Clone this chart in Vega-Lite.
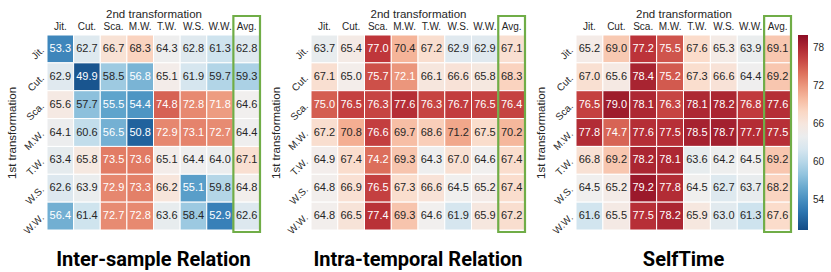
{
  "$schema": "https://vega.github.io/schema/vega-lite/v6.json",
  "padding": {"left": 6, "top": 8, "right": 2, "bottom": 4},
  "spacing": 8,
  "config": {
    "view": {"stroke": null},
    "font": "Liberation Sans",
    "axis": {"domain": false, "ticks": false, "labelFontSize": 10, "labelColor": "#262626", "titleFontSize": 11.5, "titleFontWeight": "normal", "titleColor": "#262626", "labelFont": "Liberation Sans", "titleFont": "Liberation Sans"},
    "title": {"font": "Roboto", "fontSize": 20, "fontWeight": "bold", "color": "#000000"},
    "legend": {"labelFontSize": 10, "labelColor": "#262626", "labelFont": "Liberation Sans"}
  },
  "datasets": {
    "cells": [
      {"m":"A","r":"Jit.","c":"Jit.","v":53.3},{"m":"A","r":"Jit.","c":"Cut.","v":62.7},{"m":"A","r":"Jit.","c":"Sca.","v":66.7},{"m":"A","r":"Jit.","c":"M.W.","v":68.3},{"m":"A","r":"Jit.","c":"T.W.","v":64.3},{"m":"A","r":"Jit.","c":"W.S.","v":62.8},{"m":"A","r":"Jit.","c":"W.W.","v":61.3},{"m":"A","r":"Jit.","c":"Avg.","v":62.8},
      {"m":"A","r":"Cut.","c":"Jit.","v":62.9},{"m":"A","r":"Cut.","c":"Cut.","v":49.9},{"m":"A","r":"Cut.","c":"Sca.","v":58.5},{"m":"A","r":"Cut.","c":"M.W.","v":56.8},{"m":"A","r":"Cut.","c":"T.W.","v":65.1},{"m":"A","r":"Cut.","c":"W.S.","v":61.9},{"m":"A","r":"Cut.","c":"W.W.","v":59.7},{"m":"A","r":"Cut.","c":"Avg.","v":59.3},
      {"m":"A","r":"Sca.","c":"Jit.","v":65.6},{"m":"A","r":"Sca.","c":"Cut.","v":57.7},{"m":"A","r":"Sca.","c":"Sca.","v":55.5},{"m":"A","r":"Sca.","c":"M.W.","v":54.4},{"m":"A","r":"Sca.","c":"T.W.","v":74.8},{"m":"A","r":"Sca.","c":"W.S.","v":72.8},{"m":"A","r":"Sca.","c":"W.W.","v":71.8},{"m":"A","r":"Sca.","c":"Avg.","v":64.6},
      {"m":"A","r":"M.W.","c":"Jit.","v":64.1},{"m":"A","r":"M.W.","c":"Cut.","v":60.6},{"m":"A","r":"M.W.","c":"Sca.","v":56.5},{"m":"A","r":"M.W.","c":"M.W.","v":50.8},{"m":"A","r":"M.W.","c":"T.W.","v":72.9},{"m":"A","r":"M.W.","c":"W.S.","v":73.1},{"m":"A","r":"M.W.","c":"W.W.","v":72.7},{"m":"A","r":"M.W.","c":"Avg.","v":64.4},
      {"m":"A","r":"T.W.","c":"Jit.","v":63.4},{"m":"A","r":"T.W.","c":"Cut.","v":65.8},{"m":"A","r":"T.W.","c":"Sca.","v":73.5},{"m":"A","r":"T.W.","c":"M.W.","v":73.6},{"m":"A","r":"T.W.","c":"T.W.","v":65.1},{"m":"A","r":"T.W.","c":"W.S.","v":64.4},{"m":"A","r":"T.W.","c":"W.W.","v":64.0},{"m":"A","r":"T.W.","c":"Avg.","v":67.1},
      {"m":"A","r":"W.S.","c":"Jit.","v":62.6},{"m":"A","r":"W.S.","c":"Cut.","v":63.9},{"m":"A","r":"W.S.","c":"Sca.","v":72.9},{"m":"A","r":"W.S.","c":"M.W.","v":73.3},{"m":"A","r":"W.S.","c":"T.W.","v":66.2},{"m":"A","r":"W.S.","c":"W.S.","v":55.1},{"m":"A","r":"W.S.","c":"W.W.","v":59.8},{"m":"A","r":"W.S.","c":"Avg.","v":64.8},
      {"m":"A","r":"W.W.","c":"Jit.","v":56.4},{"m":"A","r":"W.W.","c":"Cut.","v":61.4},{"m":"A","r":"W.W.","c":"Sca.","v":72.7},{"m":"A","r":"W.W.","c":"M.W.","v":72.8},{"m":"A","r":"W.W.","c":"T.W.","v":63.6},{"m":"A","r":"W.W.","c":"W.S.","v":58.4},{"m":"A","r":"W.W.","c":"W.W.","v":52.9},{"m":"A","r":"W.W.","c":"Avg.","v":62.6},

      {"m":"B","r":"Jit.","c":"Jit.","v":63.7},{"m":"B","r":"Jit.","c":"Cut.","v":65.4},{"m":"B","r":"Jit.","c":"Sca.","v":77.0},{"m":"B","r":"Jit.","c":"M.W.","v":70.4},{"m":"B","r":"Jit.","c":"T.W.","v":67.2},{"m":"B","r":"Jit.","c":"W.S.","v":62.9},{"m":"B","r":"Jit.","c":"W.W.","v":62.9},{"m":"B","r":"Jit.","c":"Avg.","v":67.1},
      {"m":"B","r":"Cut.","c":"Jit.","v":67.1},{"m":"B","r":"Cut.","c":"Cut.","v":65.0},{"m":"B","r":"Cut.","c":"Sca.","v":75.7},{"m":"B","r":"Cut.","c":"M.W.","v":72.1},{"m":"B","r":"Cut.","c":"T.W.","v":66.1},{"m":"B","r":"Cut.","c":"W.S.","v":66.6},{"m":"B","r":"Cut.","c":"W.W.","v":65.8},{"m":"B","r":"Cut.","c":"Avg.","v":68.3},
      {"m":"B","r":"Sca.","c":"Jit.","v":75.0},{"m":"B","r":"Sca.","c":"Cut.","v":76.5},{"m":"B","r":"Sca.","c":"Sca.","v":76.3},{"m":"B","r":"Sca.","c":"M.W.","v":77.6},{"m":"B","r":"Sca.","c":"T.W.","v":76.3},{"m":"B","r":"Sca.","c":"W.S.","v":76.7},{"m":"B","r":"Sca.","c":"W.W.","v":76.5},{"m":"B","r":"Sca.","c":"Avg.","v":76.4},
      {"m":"B","r":"M.W.","c":"Jit.","v":67.2},{"m":"B","r":"M.W.","c":"Cut.","v":70.8},{"m":"B","r":"M.W.","c":"Sca.","v":76.6},{"m":"B","r":"M.W.","c":"M.W.","v":69.7},{"m":"B","r":"M.W.","c":"T.W.","v":68.6},{"m":"B","r":"M.W.","c":"W.S.","v":71.2},{"m":"B","r":"M.W.","c":"W.W.","v":67.5},{"m":"B","r":"M.W.","c":"Avg.","v":70.2},
      {"m":"B","r":"T.W.","c":"Jit.","v":64.9},{"m":"B","r":"T.W.","c":"Cut.","v":67.4},{"m":"B","r":"T.W.","c":"Sca.","v":74.2},{"m":"B","r":"T.W.","c":"M.W.","v":69.3},{"m":"B","r":"T.W.","c":"T.W.","v":64.3},{"m":"B","r":"T.W.","c":"W.S.","v":67.0},{"m":"B","r":"T.W.","c":"W.W.","v":64.6},{"m":"B","r":"T.W.","c":"Avg.","v":67.4},
      {"m":"B","r":"W.S.","c":"Jit.","v":64.8},{"m":"B","r":"W.S.","c":"Cut.","v":66.9},{"m":"B","r":"W.S.","c":"Sca.","v":76.5},{"m":"B","r":"W.S.","c":"M.W.","v":67.3},{"m":"B","r":"W.S.","c":"T.W.","v":66.6},{"m":"B","r":"W.S.","c":"W.S.","v":64.5},{"m":"B","r":"W.S.","c":"W.W.","v":65.2},{"m":"B","r":"W.S.","c":"Avg.","v":67.4},
      {"m":"B","r":"W.W.","c":"Jit.","v":64.8},{"m":"B","r":"W.W.","c":"Cut.","v":66.5},{"m":"B","r":"W.W.","c":"Sca.","v":77.4},{"m":"B","r":"W.W.","c":"M.W.","v":69.3},{"m":"B","r":"W.W.","c":"T.W.","v":64.6},{"m":"B","r":"W.W.","c":"W.S.","v":61.9},{"m":"B","r":"W.W.","c":"W.W.","v":65.9},{"m":"B","r":"W.W.","c":"Avg.","v":67.2},

      {"m":"C","r":"Jit.","c":"Jit.","v":65.2},{"m":"C","r":"Jit.","c":"Cut.","v":69.0},{"m":"C","r":"Jit.","c":"Sca.","v":77.2},{"m":"C","r":"Jit.","c":"M.W.","v":75.5},{"m":"C","r":"Jit.","c":"T.W.","v":67.6},{"m":"C","r":"Jit.","c":"W.S.","v":65.3},{"m":"C","r":"Jit.","c":"W.W.","v":63.9},{"m":"C","r":"Jit.","c":"Avg.","v":69.1},
      {"m":"C","r":"Cut.","c":"Jit.","v":67.0},{"m":"C","r":"Cut.","c":"Cut.","v":65.6},{"m":"C","r":"Cut.","c":"Sca.","v":78.4},{"m":"C","r":"Cut.","c":"M.W.","v":75.2},{"m":"C","r":"Cut.","c":"T.W.","v":67.3},{"m":"C","r":"Cut.","c":"W.S.","v":66.6},{"m":"C","r":"Cut.","c":"W.W.","v":64.4},{"m":"C","r":"Cut.","c":"Avg.","v":69.2},
      {"m":"C","r":"Sca.","c":"Jit.","v":76.5},{"m":"C","r":"Sca.","c":"Cut.","v":79.0},{"m":"C","r":"Sca.","c":"Sca.","v":78.1},{"m":"C","r":"Sca.","c":"M.W.","v":76.3},{"m":"C","r":"Sca.","c":"T.W.","v":78.1},{"m":"C","r":"Sca.","c":"W.S.","v":78.2},{"m":"C","r":"Sca.","c":"W.W.","v":76.8},{"m":"C","r":"Sca.","c":"Avg.","v":77.6},
      {"m":"C","r":"M.W.","c":"Jit.","v":77.8},{"m":"C","r":"M.W.","c":"Cut.","v":74.7},{"m":"C","r":"M.W.","c":"Sca.","v":77.6},{"m":"C","r":"M.W.","c":"M.W.","v":77.5},{"m":"C","r":"M.W.","c":"T.W.","v":78.5},{"m":"C","r":"M.W.","c":"W.S.","v":78.7},{"m":"C","r":"M.W.","c":"W.W.","v":77.7},{"m":"C","r":"M.W.","c":"Avg.","v":77.5},
      {"m":"C","r":"T.W.","c":"Jit.","v":66.8},{"m":"C","r":"T.W.","c":"Cut.","v":69.2},{"m":"C","r":"T.W.","c":"Sca.","v":78.2},{"m":"C","r":"T.W.","c":"M.W.","v":78.1},{"m":"C","r":"T.W.","c":"T.W.","v":63.6},{"m":"C","r":"T.W.","c":"W.S.","v":64.2},{"m":"C","r":"T.W.","c":"W.W.","v":64.5},{"m":"C","r":"T.W.","c":"Avg.","v":69.2},
      {"m":"C","r":"W.S.","c":"Jit.","v":64.5},{"m":"C","r":"W.S.","c":"Cut.","v":65.2},{"m":"C","r":"W.S.","c":"Sca.","v":79.2},{"m":"C","r":"W.S.","c":"M.W.","v":77.8},{"m":"C","r":"W.S.","c":"T.W.","v":64.5},{"m":"C","r":"W.S.","c":"W.S.","v":62.7},{"m":"C","r":"W.S.","c":"W.W.","v":63.7},{"m":"C","r":"W.S.","c":"Avg.","v":68.2},
      {"m":"C","r":"W.W.","c":"Jit.","v":61.6},{"m":"C","r":"W.W.","c":"Cut.","v":65.5},{"m":"C","r":"W.W.","c":"Sca.","v":77.5},{"m":"C","r":"W.W.","c":"M.W.","v":78.2},{"m":"C","r":"W.W.","c":"T.W.","v":65.9},{"m":"C","r":"W.W.","c":"W.S.","v":63.0},{"m":"C","r":"W.W.","c":"W.W.","v":61.3},{"m":"C","r":"W.W.","c":"Avg.","v":67.6}
    ]
  },
  "hconcat": [
    {
      "width": 213, "height": 195,
      "data": {"name": "cells"},
      "transform": [{"filter": "datum.m === 'A'"}],
      "title": {"text": "Inter-sample Relation", "orient": "bottom", "anchor": "middle", "offset": 14},
      "layer": [
        {
          "mark": {"type": "rect", "stroke": "white", "strokeWidth": 1},
          "encoding": {
            "x": {"field": "c", "type": "nominal", "sort": ["Jit.","Cut.","Sca.","M.W.","T.W.","W.S.","W.W.","Avg."], "axis": {"orient": "top", "title": "2nd transformation", "labelAngle": 0, "labelPadding": 4, "titlePadding": 2}},
            "y": {"field": "r", "type": "nominal", "sort": ["Jit.","Cut.","Sca.","M.W.","T.W.","W.S.","W.W."], "axis": {"title": "1st transformation", "labelAngle": -45, "labelAlign": "right", "labelBaseline": "middle", "labelPadding": 5, "titlePadding": 4}},
            "color": {"field": "v", "type": "quantitative", "scale": {"scheme": "redblue", "reverse": true, "domain": [49.2, 80.1]}, "legend": {"title": null, "values": [54, 60, 66, 72, 78], "gradientLength": 195, "gradientThickness": 10, "ticks": false, "labelOffset": 5, "orient": "right", "offset": 5}}
          }
        },
        {
          "mark": {"type": "text", "fontSize": 11, "font": "Liberation Sans"},
          "encoding": {
            "x": {"field": "c", "type": "nominal", "sort": ["Jit.","Cut.","Sca.","M.W.","T.W.","W.S.","W.W.","Avg."]},
            "y": {"field": "r", "type": "nominal", "sort": ["Jit.","Cut.","Sca.","M.W.","T.W.","W.S.","W.W."]},
            "text": {"field": "v", "type": "quantitative", "format": ".1f"},
            "color": {"condition": {"test": "datum.v < 57.2 || datum.v > 71.5", "value": "white"}, "value": "#262626"}
          }
        },
        {
          "transform": [{"filter": "datum.c === 'Avg.' && datum.r === 'Jit.'"}],
          "mark": {"type": "rect", "fill": null, "stroke": "#70AD47", "strokeWidth": 2.2, "y": -19, "y2": {"expr": "height + 2"}},
          "encoding": {
            "x": {"field": "c", "type": "nominal", "sort": ["Jit.","Cut.","Sca.","M.W.","T.W.","W.S.","W.W.","Avg."]}
          }
        }
      ]
    },
    {
      "width": 214, "height": 195,
      "data": {"name": "cells"},
      "transform": [{"filter": "datum.m === 'B'"}],
      "title": {"text": "Intra-temporal Relation", "orient": "bottom", "anchor": "middle", "offset": 14},
      "layer": [
        {
          "mark": {"type": "rect", "stroke": "white", "strokeWidth": 1},
          "encoding": {
            "x": {"field": "c", "type": "nominal", "sort": ["Jit.","Cut.","Sca.","M.W.","T.W.","W.S.","W.W.","Avg."], "axis": {"orient": "top", "title": "2nd transformation", "labelAngle": 0, "labelPadding": 4, "titlePadding": 2}},
            "y": {"field": "r", "type": "nominal", "sort": ["Jit.","Cut.","Sca.","M.W.","T.W.","W.S.","W.W."], "axis": {"title": "1st transformation", "labelAngle": -45, "labelAlign": "right", "labelBaseline": "middle", "labelPadding": 5, "titlePadding": 4}},
            "color": {"field": "v", "type": "quantitative", "scale": {"scheme": "redblue", "reverse": true, "domain": [49.2, 80.1]}}
          }
        },
        {
          "mark": {"type": "text", "fontSize": 11, "font": "Liberation Sans"},
          "encoding": {
            "x": {"field": "c", "type": "nominal", "sort": ["Jit.","Cut.","Sca.","M.W.","T.W.","W.S.","W.W.","Avg."]},
            "y": {"field": "r", "type": "nominal", "sort": ["Jit.","Cut.","Sca.","M.W.","T.W.","W.S.","W.W."]},
            "text": {"field": "v", "type": "quantitative", "format": ".1f"},
            "color": {"condition": {"test": "datum.v < 57.2 || datum.v > 71.5", "value": "white"}, "value": "#262626"}
          }
        },
        {
          "transform": [{"filter": "datum.c === 'Avg.' && datum.r === 'Jit.'"}],
          "mark": {"type": "rect", "fill": null, "stroke": "#70AD47", "strokeWidth": 2.2, "y": -19, "y2": {"expr": "height + 2"}},
          "encoding": {
            "x": {"field": "c", "type": "nominal", "sort": ["Jit.","Cut.","Sca.","M.W.","T.W.","W.S.","W.W.","Avg."]}
          }
        }
      ]
    },
    {
      "width": 215, "height": 195,
      "data": {"name": "cells"},
      "transform": [{"filter": "datum.m === 'C'"}],
      "title": {"text": "SelfTime", "orient": "bottom", "anchor": "middle", "offset": 14},
      "layer": [
        {
          "mark": {"type": "rect", "stroke": "white", "strokeWidth": 1},
          "encoding": {
            "x": {"field": "c", "type": "nominal", "sort": ["Jit.","Cut.","Sca.","M.W.","T.W.","W.S.","W.W.","Avg."], "axis": {"orient": "top", "title": "2nd transformation", "labelAngle": 0, "labelPadding": 4, "titlePadding": 2}},
            "y": {"field": "r", "type": "nominal", "sort": ["Jit.","Cut.","Sca.","M.W.","T.W.","W.S.","W.W."], "axis": {"title": "1st transformation", "labelAngle": -45, "labelAlign": "right", "labelBaseline": "middle", "labelPadding": 5, "titlePadding": 4}},
            "color": {"field": "v", "type": "quantitative", "scale": {"scheme": "redblue", "reverse": true, "domain": [49.2, 80.1]}}
          }
        },
        {
          "mark": {"type": "text", "fontSize": 11, "font": "Liberation Sans"},
          "encoding": {
            "x": {"field": "c", "type": "nominal", "sort": ["Jit.","Cut.","Sca.","M.W.","T.W.","W.S.","W.W.","Avg."]},
            "y": {"field": "r", "type": "nominal", "sort": ["Jit.","Cut.","Sca.","M.W.","T.W.","W.S.","W.W."]},
            "text": {"field": "v", "type": "quantitative", "format": ".1f"},
            "color": {"condition": {"test": "datum.v < 57.2 || datum.v > 71.5", "value": "white"}, "value": "#262626"}
          }
        },
        {
          "transform": [{"filter": "datum.c === 'Avg.' && datum.r === 'Jit.'"}],
          "mark": {"type": "rect", "fill": null, "stroke": "#70AD47", "strokeWidth": 2.2, "y": -19, "y2": {"expr": "height + 2"}},
          "encoding": {
            "x": {"field": "c", "type": "nominal", "sort": ["Jit.","Cut.","Sca.","M.W.","T.W.","W.S.","W.W.","Avg."]}
          }
        }
      ]
    }
  ]
}
